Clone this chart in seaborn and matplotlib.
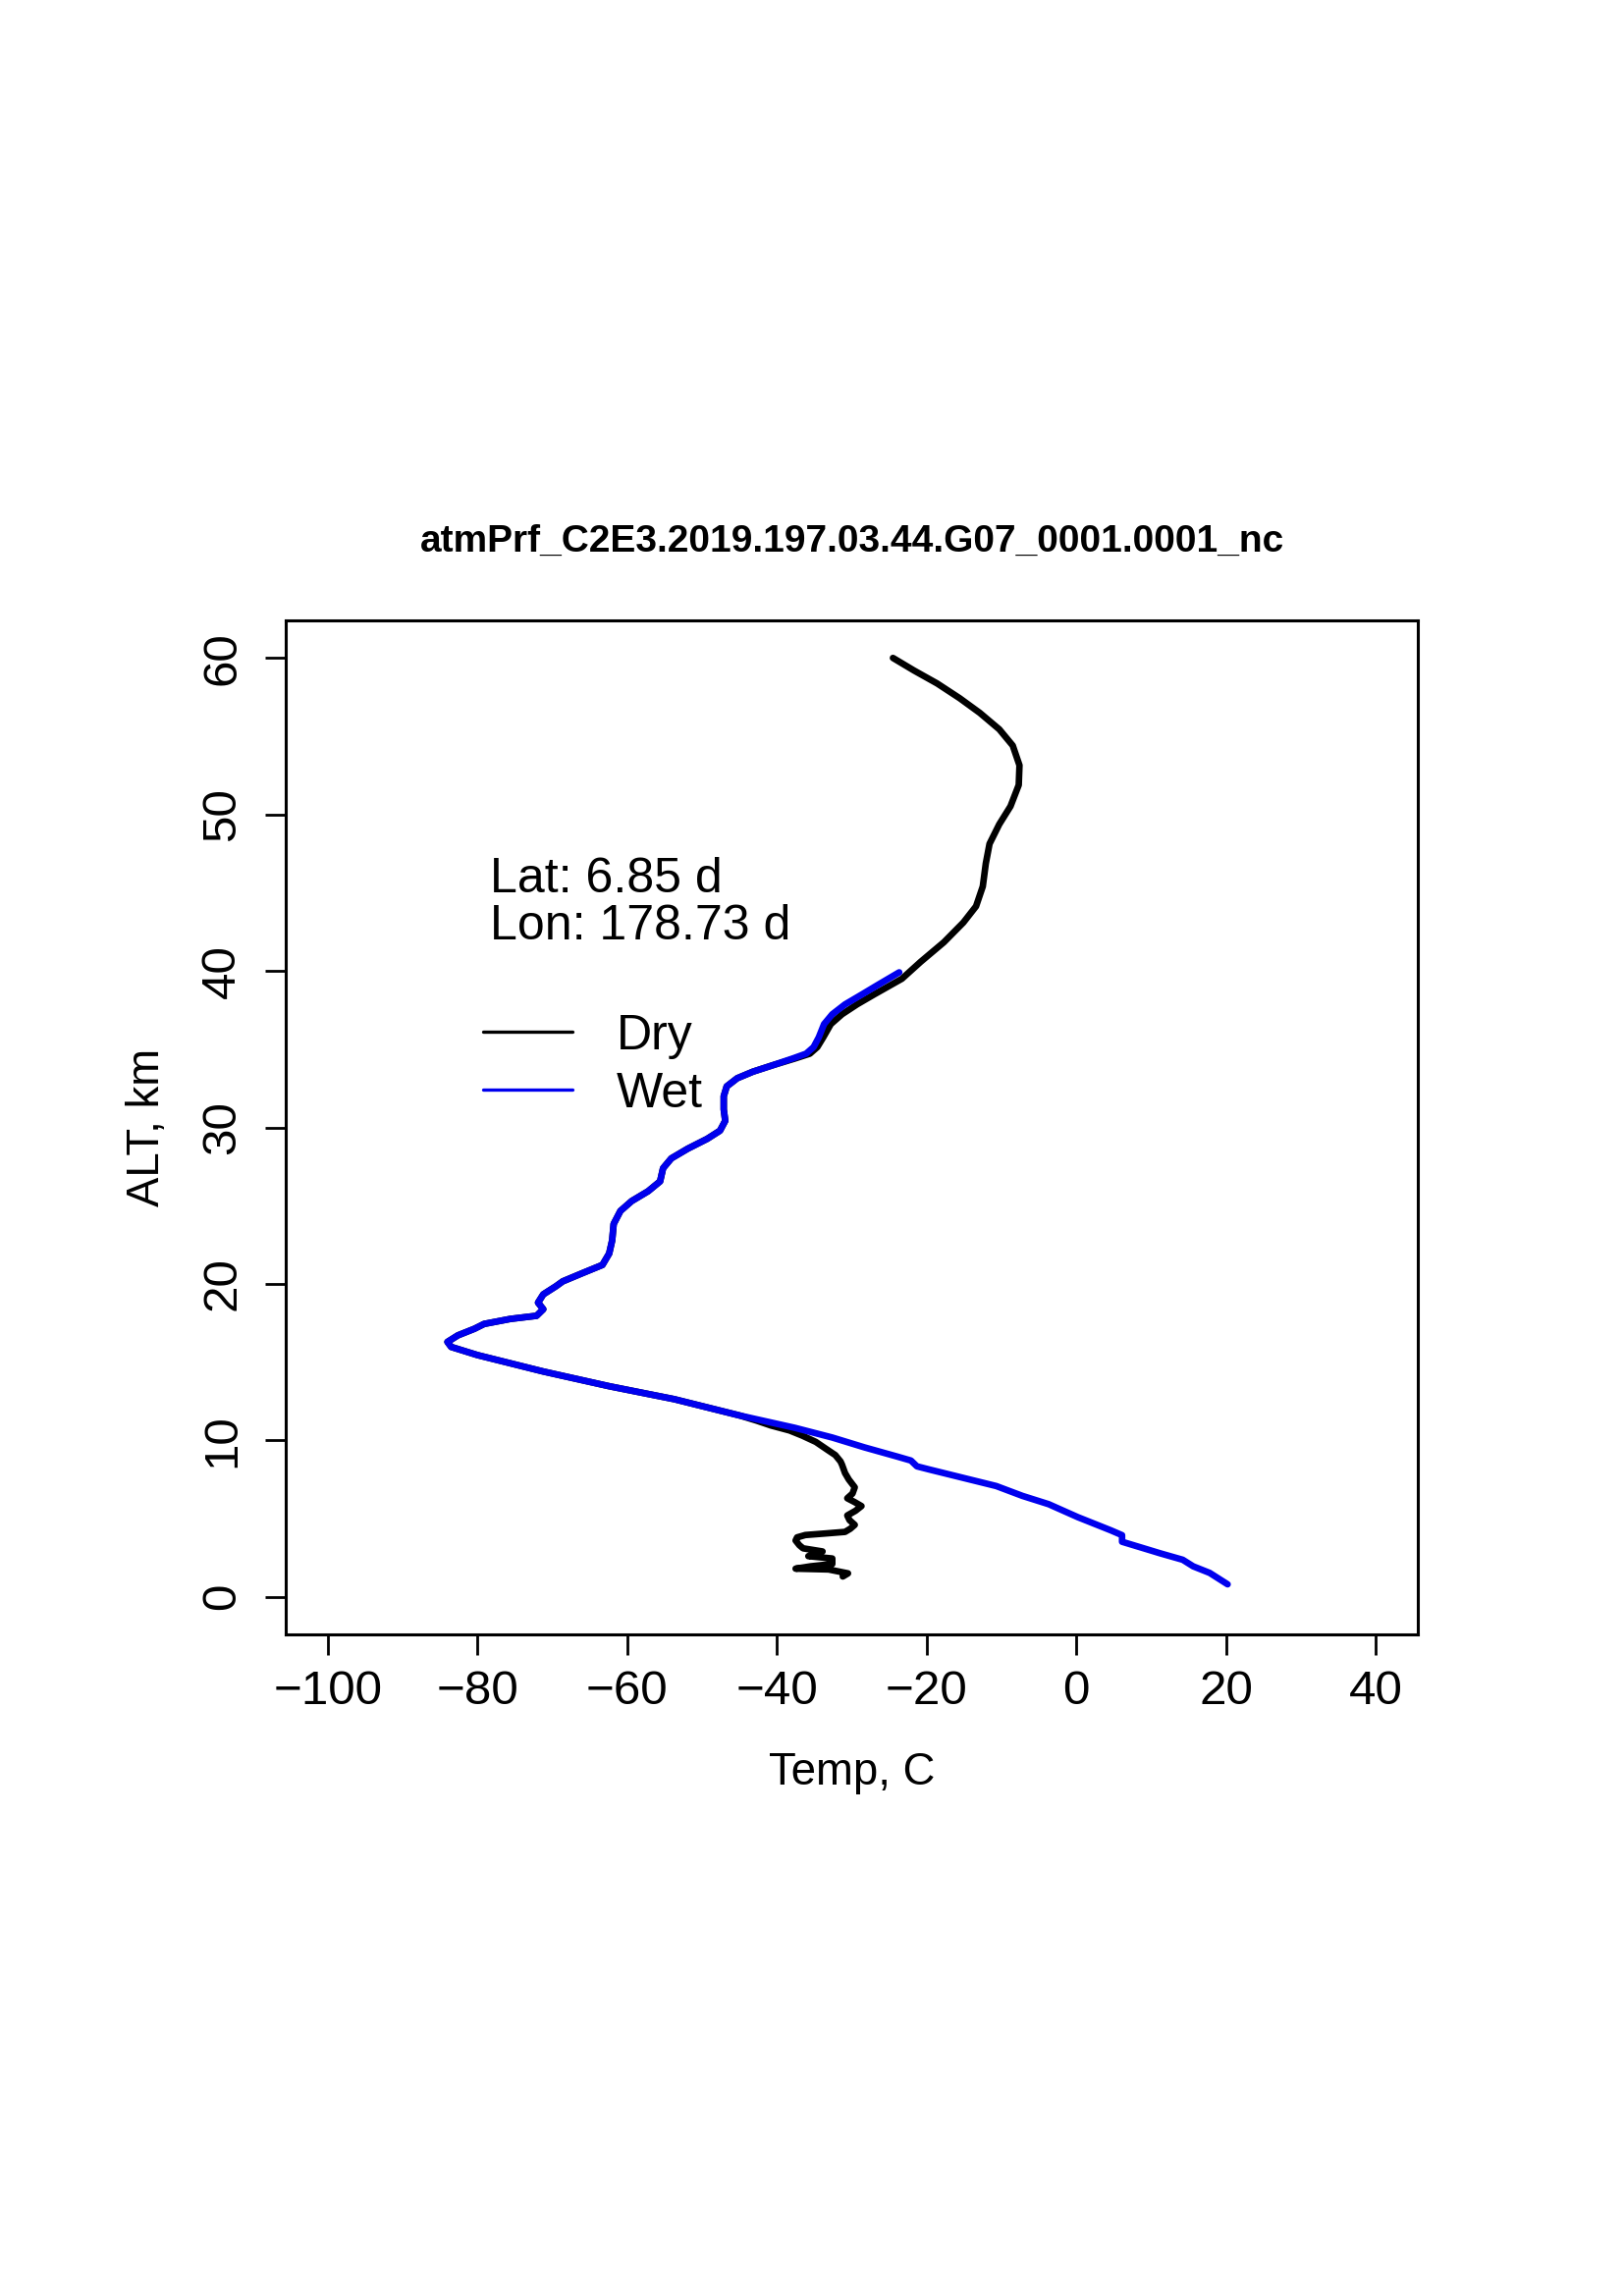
import numpy as np
import pandas as pd
import matplotlib
matplotlib.use('Agg')
import matplotlib.pyplot as plt
import seaborn as sns

title = 'atmPrf_C2E3.2019.197.03.44.G07_0001.0001_nc'
lat_text = 'Lat: 6.85 d'
lon_text = 'Lon: 178.73 d'

# Dry temperature profile, top to bottom
dry_alt = [60.0, 59.2, 58.37, 57.43, 56.49, 55.44, 54.4, 53.14, 51.88, 50.52,
           49.37, 48.12, 46.86, 45.4, 44.13, 43.09, 41.83, 40.58, 39.5, 38.5,
           37.86, 37.23, 36.6, 35.76, 35.13, 34.71, 34.4, 33.98, 33.56, 33.14,
           32.62, 31.99, 31.15, 30.42, 29.79, 29.27, 28.64, 28.02, 27.39,
           26.55, 25.92, 25.29, 24.66, 23.83, 22.78, 21.94, 21.21, 20.68,
           20.16, 19.85, 19.33, 18.8, 18.38, 17.96, 17.76, 17.44, 17.13, 16.71,
           16.29, 15.97, 15.45, 14.4, 13.46, 12.63, 11.58, 11.26, 10.95, 10.63,
           10.3, 9.9, 9.38, 9.06, 8.65, 8.44, 7.91, 7.5, 7.0, 6.6, 6.3, 6.05,
           5.8, 5.5, 5.2, 4.9, 4.6, 4.35, 4.15, 4.05, 3.95, 3.8, 3.6, 3.3, 3.1,
           2.9, 2.75, 2.6, 2.45, 2.1, 1.95, 1.8, 1.75, 1.5, 1.3]
dry_temp = [-24.5, -21.7, -18.6, -15.6, -12.9, -10.3, -8.5, -7.6, -7.7, -8.8,
            -10.3, -11.6, -12.1, -12.5, -13.4, -15.1, -17.7, -20.8, -23.3,
            -27.0, -29.3, -31.3, -32.8, -33.8, -34.6, -35.6, -37.6, -40.5,
            -43.2, -45.3, -46.7, -47.1, -47.1, -46.9, -47.6, -49.3, -51.9,
            -54.1, -55.2, -55.6, -57.2, -59.4, -60.9, -61.8, -62.0, -62.4,
            -63.3, -66.0, -68.6, -69.5, -71.2, -71.9, -71.2, -72.1, -75.6,
            -79.1, -80.4, -82.6, -84.0, -83.5, -80.0, -71.2, -62.4, -53.7,
            -44.9, -42.7, -40.8, -38.3, -36.6, -34.8, -33.2, -32.2, -31.5,
            -31.3, -30.9, -30.4, -29.6, -29.9, -30.6, -29.6, -28.7, -29.5,
            -30.6, -30.3, -29.6, -30.2, -30.9, -33.5, -36.2, -37.3, -37.5,
            -37.0, -36.5, -33.9, -34.8, -35.8, -32.6, -32.6, -35.5, -37.5,
            -33.1, -30.5, -31.2]

# Wet temperature profile, top to bottom
wet_alt = [39.91, 39.11, 38.48, 37.86, 37.23, 36.6, 35.76, 35.13, 34.71, 34.4,
           33.98, 33.56, 33.14, 32.62, 31.99, 31.15, 30.42, 29.79, 29.27,
           28.64, 28.02, 27.39, 26.55, 25.92, 25.29, 24.66, 23.83, 22.78,
           21.94, 21.21, 20.68, 20.16, 19.85, 19.33, 18.8, 18.38, 17.96, 17.76,
           17.44, 17.13, 16.71, 16.29, 15.97, 15.45, 14.4, 13.46, 12.63, 11.58,
           10.8, 10.18, 9.55, 8.96, 8.71, 8.34, 8.12, 7.6, 7.08, 6.45, 5.92,
           5.09, 4.25, 3.94, 3.52, 3.1, 2.78, 2.37, 1.95, 1.53, 0.8]
wet_temp = [-23.66, -26.5, -28.7, -30.9, -32.6, -33.7, -34.4, -35.1, -36.1,
            -37.9, -40.5, -43.2, -45.3, -46.7, -47.1, -47.1, -46.9, -47.6,
            -49.3, -51.9, -54.1, -55.2, -55.6, -57.2, -59.4, -60.9, -61.8,
            -62.0, -62.4, -63.3, -66.0, -68.6, -69.5, -71.2, -71.9, -71.2,
            -72.1, -75.6, -79.1, -80.4, -82.6, -84.0, -83.5, -80.0, -71.2,
            -62.4, -53.7, -44.9, -37.6, -32.6, -28.3, -23.9, -22.1, -21.3,
            -19.5, -15.1, -10.7, -7.2, -3.7, 0.2, 4.6, 6.1, 6.1, 9.0, 11.2,
            14.2, 15.6, 17.8, 20.2]

x_ticks = [-100, -80, -60, -40, -20, 0, 20, 40]
y_ticks = [0, 10, 20, 30, 40, 50, 60]

sns.set_style('ticks')
plt.rcParams['font.family'] = ['Liberation Sans', 'DejaVu Sans']
plt.rcParams['text.color'] = 'black'
plt.rcParams['axes.labelcolor'] = 'black'
plt.rcParams['axes.edgecolor'] = 'black'
plt.rcParams['axes.linewidth'] = 1.1
plt.rcParams['xtick.color'] = 'black'
plt.rcParams['ytick.color'] = 'black'

df_dry = pd.DataFrame({'temp': dry_temp, 'alt': dry_alt})
df_wet = pd.DataFrame({'temp': wet_temp, 'alt': wet_alt})

fig = plt.figure(figsize=(8.27, 11.695), dpi=200)
ax = fig.add_axes([291 / 1654, 1 - 1665 / 2339, 1153 / 1654, 1033 / 2339])

sns.lineplot(data=df_dry, x='temp', y='alt', sort=False, estimator=None,
             color='black', linewidth=2.4, label='Dry', ax=ax,
             solid_capstyle='round', solid_joinstyle='round')
sns.lineplot(data=df_wet, x='temp', y='alt', sort=False, estimator=None,
             color='#0000ee', linewidth=2.4, label='Wet', ax=ax,
             solid_capstyle='round', solid_joinstyle='round')

ax.set_xlim(-105.6, 45.6)
ax.set_ylim(-2.4, 62.4)
ax.set_xticks(x_ticks)
ax.set_yticks(y_ticks)
ax.tick_params(axis='both', direction='out', length=7.4, width=1.0,
               labelsize=17.8, colors='black')
ax.tick_params(axis='x', pad=5.7)
ax.tick_params(axis='y', pad=7.6)
plt.setp(ax.get_yticklabels(), rotation=90, va='center')
for s in ax.spines.values():
    s.set_visible(True)

ax.set_xlabel('Temp, C', fontsize=16.4, labelpad=13.5)
ax.set_ylabel('ALT, km', fontsize=16.4, labelpad=11.7)

fig.text(0.5245, 1 - 552 / 2339, title, fontsize=14.0, fontweight='bold',
         ha='center', va='center')

ax.text(-78.3, 45.0, lat_text, fontsize=18, ha='left', va='baseline')
ax.text(-78.3, 42.0, lon_text, fontsize=18, ha='left', va='baseline')

leg = ax.legend(loc='upper left', bbox_to_anchor=(-79.3, 37.25),
                bbox_transform=ax.transData, frameon=False, fontsize=18,
                handlelength=1.82, handletextpad=0.9, labelspacing=0.26,
                borderpad=0, borderaxespad=0)
for h in leg.get_lines():
    h.set_linewidth(1.2)

fig.savefig('out.png', dpi=200, facecolor='white')
